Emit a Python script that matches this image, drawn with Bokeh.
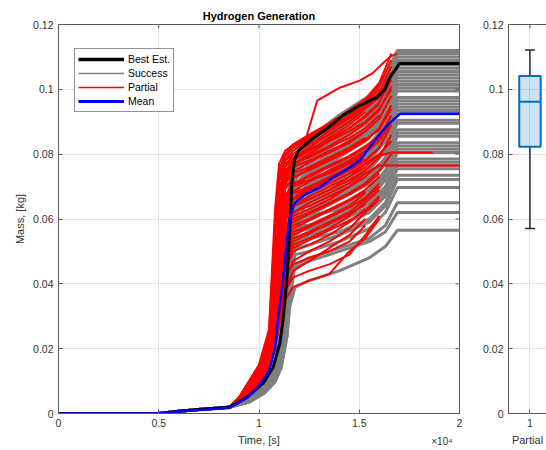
from bokeh.plotting import figure
from bokeh.layouts import row
from bokeh.models import Range1d, LinearAxis, FixedTicker, Legend, LegendItem, Label
from bokeh.embed import file_html
from bokeh.resources import INLINE

FONT = "Liberation Sans"
AX = "#5a5a5a"
TXT = "#333333"
GRID = "#e4e4e4"
NAN = float("nan")

# ---------------- data ----------------
title_text = "Hydrogen Generation"
x_label = "Time, [s]"
y_label = "Mass, [kg]"
box_label = "Partial"
x_mult_text = "×10⁴"

x_ticks = [0, 5000, 10000, 15000, 20000]
x_tick_labels = ["0", "0.5", "1", "1.5", "2"]
y_ticks = [0, 0.02, 0.04, 0.06, 0.08, 0.1, 0.12]
y_tick_labels = ["0", "0.02", "0.04", "0.06", "0.08", "0.1", "0.12"]
box_ticks = [1]
box_tick_labels = ["1"]

# common start of every run
base_t = [0, 5000, 6000, 7000, 8500]
base_m = [0.0, 0.0, 0.0007, 0.0012, 0.0019]

# Success runs (gray)
gray_t = [9500, 10300, 10800, 11100, 11400, 11800, 12500, 14000, 15500, 16300, 16900, 20000]
gray_high = [
    [0.0043, 0.0082, 0.0132, 0.025, 0.058, 0.078, 0.084, 0.091, 0.0975, 0.103, 0.1115, 0.1115],
    [0.0045, 0.0085, 0.0140, 0.028, 0.066, 0.079, 0.085, 0.092, 0.098, 0.104, 0.112, 0.112],
    [0.0040, 0.0078, 0.0120, 0.021, 0.050, 0.077, 0.083, 0.090, 0.097, 0.102, 0.111, 0.111],
    [0.0042, 0.0080, 0.0130, 0.025, 0.060, 0.076, 0.082, 0.089, 0.096, 0.101, 0.110, 0.110],
    [0.0038, 0.0070, 0.0110, 0.017, 0.032, 0.072, 0.080, 0.088, 0.095, 0.100, 0.109, 0.109],
    [0.0041, 0.0079, 0.0125, 0.023, 0.055, 0.075, 0.082, 0.089, 0.0955, 0.1005, 0.1085, 0.1085],
    [0.0040, 0.0075, 0.0120, 0.020, 0.046, 0.074, 0.081, 0.087, 0.094, 0.099, 0.1075, 0.1075],
    [0.0045, 0.0085, 0.0140, 0.027, 0.064, 0.075, 0.079, 0.086, 0.092, 0.098, 0.1065, 0.1065],
    [0.0036, 0.0068, 0.0105, 0.016, 0.028, 0.066, 0.078, 0.085, 0.091, 0.097, 0.1055, 0.1055],
    [0.0040, 0.0078, 0.0125, 0.022, 0.052, 0.072, 0.077, 0.084, 0.090, 0.096, 0.1045, 0.1045],
    [0.0042, 0.0080, 0.0130, 0.024, 0.058, 0.070, 0.076, 0.082, 0.089, 0.095, 0.1035, 0.1035],
    [0.0038, 0.0070, 0.0110, 0.018, 0.036, 0.068, 0.075, 0.081, 0.088, 0.094, 0.1025, 0.1025],
    [0.0044, 0.0082, 0.0135, 0.026, 0.061, 0.071, 0.074, 0.080, 0.087, 0.093, 0.1015, 0.1015],
    [0.0036, 0.0066, 0.0100, 0.015, 0.026, 0.060, 0.073, 0.080, 0.086, 0.092, 0.1005, 0.1005],
    [0.0040, 0.0076, 0.0120, 0.021, 0.048, 0.069, 0.072, 0.079, 0.085, 0.091, 0.0995, 0.0995],
]
gray_mid = [
    [0.0042, 0.0080, 0.0130, 0.023, 0.055, 0.067, 0.071, 0.077, 0.083, 0.089, 0.0975, 0.0975],
    [0.0038, 0.0072, 0.0115, 0.019, 0.040, 0.065, 0.070, 0.076, 0.082, 0.088, 0.0965, 0.0965],
    [0.0045, 0.0084, 0.0140, 0.027, 0.063, 0.068, 0.069, 0.075, 0.081, 0.087, 0.0955, 0.0955],
    [0.0035, 0.0065, 0.0098, 0.014, 0.024, 0.056, 0.068, 0.074, 0.080, 0.086, 0.0945, 0.0945],
    [0.0040, 0.0076, 0.0120, 0.020, 0.047, 0.064, 0.067, 0.073, 0.079, 0.085, 0.0935, 0.0935],
    [0.0042, 0.0079, 0.0128, 0.023, 0.054, 0.063, 0.066, 0.072, 0.078, 0.084, 0.0925, 0.0925],
    [0.0038, 0.0071, 0.0112, 0.018, 0.037, 0.062, 0.065, 0.070, 0.076, 0.082, 0.0905, 0.0905],
    [0.0043, 0.0081, 0.0132, 0.025, 0.058, 0.064, 0.064, 0.069, 0.075, 0.081, 0.0895, 0.0895],
    [0.0036, 0.0067, 0.0102, 0.0155, 0.027, 0.058, 0.063, 0.068, 0.073, 0.079, 0.0875, 0.0875],
    [0.0040, 0.0077, 0.0122, 0.021, 0.049, 0.060, 0.062, 0.067, 0.072, 0.078, 0.0865, 0.0865],
    [0.0042, 0.0080, 0.0130, 0.024, 0.056, 0.061, 0.061, 0.066, 0.071, 0.077, 0.0855, 0.0855],
    [0.0038, 0.0072, 0.0114, 0.019, 0.041, 0.059, 0.060, 0.064, 0.069, 0.075, 0.0835, 0.0835],
    [0.0044, 0.0083, 0.0136, 0.026, 0.058, 0.060, 0.061, 0.063, 0.068, 0.074, 0.0825, 0.0825],
    [0.0036, 0.0066, 0.0100, 0.015, 0.026, 0.055, 0.058, 0.062, 0.067, 0.073, 0.0815, 0.0815],
    [0.0040, 0.0076, 0.0120, 0.020, 0.046, 0.057, 0.058, 0.061, 0.066, 0.072, 0.0805, 0.0805],
]
gray_low = [
    [0.0042, 0.0079, 0.0128, 0.023, 0.053, 0.056, 0.057, 0.060, 0.065, 0.070, 0.0785, 0.0785],
    [0.0038, 0.0070, 0.0110, 0.018, 0.035, 0.054, 0.056, 0.059, 0.064, 0.069, 0.0775, 0.0775],
    [0.0045, 0.0085, 0.0140, 0.027, 0.057, 0.058, 0.058, 0.060, 0.063, 0.068, 0.0765, 0.0765],
    [0.0035, 0.0064, 0.0098, 0.014, 0.024, 0.052, 0.055, 0.058, 0.062, 0.067, 0.0755, 0.0755],
    [0.0040, 0.0075, 0.0120, 0.020, 0.044, 0.053, 0.054, 0.056, 0.060, 0.065, 0.0735, 0.0735],
    [0.0042, 0.0080, 0.0130, 0.023, 0.050, 0.051, 0.052, 0.055, 0.059, 0.064, 0.0722, 0.0722],
    [0.0038, 0.0070, 0.0110, 0.018, 0.034, 0.049, 0.050, 0.053, 0.057, 0.062, 0.0697, 0.0697],
    [0.0036, 0.0067, 0.0103, 0.016, 0.029, 0.046, 0.048, 0.051, 0.054, 0.058, 0.0650, 0.0650],
    [0.0040, 0.0075, 0.0120, 0.020, 0.040, 0.045, 0.047, 0.050, 0.053, 0.056, 0.0620, 0.0620],
    [0.0038, 0.0070, 0.0110, 0.017, 0.030, 0.039, 0.041, 0.044, 0.048, 0.0515, 0.0565, 0.0565],
]

# Partial runs (red); each stops after its last listed value
red_t = [9000, 9500, 10000, 10500, 10800, 11000, 11300, 11700, 12500, 13500, 14500, 15300, 16000, 16600]
red_upper = [
    [0.0050, 0.0100, 0.0150, 0.026, 0.063, 0.077, 0.081, 0.083, 0.086, 0.0895, 0.0935, 0.097, 0.102, 0.111],
    [0.0048, 0.0095, 0.0145, 0.024, 0.055, 0.074, 0.080, 0.0825, 0.0855, 0.089, 0.093, 0.0965, 0.101, 0.109],
    [0.0046, 0.0090, 0.0140, 0.023, 0.048, 0.071, 0.079, 0.082, 0.085, 0.088, 0.092, 0.096, 0.100],
    [0.0045, 0.0088, 0.0135, 0.022, 0.042, 0.067, 0.078, 0.081, 0.0845, 0.0875, 0.0915, 0.095, 0.099, 0.107],
    [0.0044, 0.0085, 0.0130, 0.021, 0.038, 0.062, 0.076, 0.080, 0.083, 0.087, 0.091, 0.0945, 0.098],
    [0.0043, 0.0082, 0.0125, 0.020, 0.034, 0.056, 0.074, 0.079, 0.082, 0.086, 0.090, 0.094, 0.0975, 0.105],
    [0.0042, 0.0080, 0.0120, 0.019, 0.031, 0.050, 0.072, 0.078, 0.081, 0.085, 0.089, 0.093],
    [0.0041, 0.0078, 0.0118, 0.0185, 0.029, 0.046, 0.070, 0.077, 0.080, 0.084, 0.088, 0.092, 0.096, 0.103],
    [0.0047, 0.0092, 0.0140, 0.023, 0.050, 0.072, 0.077, 0.079, 0.081, 0.084, 0.087, 0.090, 0.094, 0.100],
    [0.0046, 0.0090, 0.0138, 0.0225, 0.046, 0.069, 0.075, 0.077, 0.079, 0.082, 0.085, 0.088, 0.092],
    [0.0045, 0.0087, 0.0133, 0.0215, 0.041, 0.064, 0.073, 0.076, 0.078, 0.081, 0.084, 0.087, 0.091, 0.098],
    [0.0044, 0.0084, 0.0128, 0.021, 0.037, 0.058, 0.071, 0.074, 0.076, 0.079, 0.082, 0.085],
]
red_dense = [
    [0.0047, 0.0093, 0.0141, 0.0235, 0.051, 0.073, 0.078, 0.080, 0.083, 0.086, 0.090, 0.094, 0.098, 0.104],
    [0.0045, 0.0089, 0.0136, 0.0222, 0.044, 0.068, 0.076, 0.0785, 0.0815, 0.0845, 0.088, 0.0915, 0.0955],
    [0.0044, 0.0086, 0.0131, 0.0212, 0.039, 0.063, 0.074, 0.0765, 0.0795, 0.0825, 0.086, 0.0895, 0.0935, 0.101],
    [0.0043, 0.0083, 0.0126, 0.0202, 0.035, 0.057, 0.072, 0.0745, 0.0775, 0.0805, 0.0835, 0.087],
    [0.0042, 0.0080, 0.0121, 0.0195, 0.032, 0.052, 0.070, 0.0725, 0.0755, 0.0785, 0.0815, 0.0845, 0.0875, 0.094],
    [0.0041, 0.0077, 0.0116, 0.0186, 0.029, 0.047, 0.067, 0.0705, 0.0735, 0.0765, 0.0795, 0.0825, 0.0855],
    [0.0040, 0.0074, 0.0111, 0.0178, 0.027, 0.043, 0.064, 0.0685, 0.0715, 0.0745, 0.0775, 0.0805, 0.084, 0.090],
    [0.0039, 0.0071, 0.0106, 0.0170, 0.025, 0.039, 0.060, 0.0665, 0.0695, 0.0725, 0.0755, 0.0785],
]
red_middle = [
    [0.0043, 0.0081, 0.0122, 0.020, 0.033, 0.053, 0.069, 0.073, 0.075, 0.078, 0.081, 0.084, 0.088, 0.095],
    [0.0042, 0.0079, 0.0118, 0.019, 0.030, 0.048, 0.067, 0.071, 0.073, 0.076, 0.079, 0.082, 0.086],
    [0.0040, 0.0075, 0.0112, 0.018, 0.028, 0.044, 0.065, 0.070, 0.072, 0.075, 0.078, 0.081, 0.085, 0.092],
    [0.0039, 0.0072, 0.0107, 0.0172, 0.026, 0.040, 0.062, 0.068, 0.070, 0.073, 0.076, 0.080],
    [0.0038, 0.0070, 0.0103, 0.0165, 0.025, 0.037, 0.059, 0.066, 0.069, 0.072, 0.075, 0.078, 0.082, 0.089],
    [0.0037, 0.0068, 0.0100, 0.016, 0.024, 0.034, 0.055, 0.064, 0.067, 0.070, 0.073, 0.076, 0.080],
    [0.0036, 0.0066, 0.0097, 0.0155, 0.023, 0.032, 0.051, 0.062, 0.065, 0.068, 0.071, 0.075, 0.079, 0.086],
    [0.0048, 0.0093, 0.0142, 0.0235, 0.049, 0.066, 0.070, 0.071, 0.072, 0.074, 0.077, 0.080],
    [0.0047, 0.0091, 0.0139, 0.023, 0.045, 0.062, 0.067, 0.068, 0.069, 0.072, 0.075, 0.078, 0.082],
    [0.0046, 0.0089, 0.0135, 0.022, 0.040, 0.058, 0.064, 0.066, 0.068, 0.071, 0.074, 0.077, 0.080, 0.084],
    [0.0045, 0.0086, 0.0130, 0.021, 0.036, 0.054, 0.062, 0.064, 0.066, 0.069, 0.072, 0.075],
    [0.0044, 0.0083, 0.0125, 0.0205, 0.033, 0.050, 0.060, 0.062, 0.064, 0.067, 0.070, 0.073, 0.077],
]
red_lower = [
    [0.0043, 0.0080, 0.0120, 0.0195, 0.031, 0.047, 0.058, 0.060, 0.062, 0.065, 0.068, 0.071, 0.075, 0.080],
    [0.0042, 0.0077, 0.0115, 0.0185, 0.029, 0.043, 0.056, 0.058, 0.060, 0.063, 0.066, 0.069, 0.073],
    [0.0041, 0.0074, 0.0110, 0.0178, 0.027, 0.040, 0.053, 0.056, 0.058, 0.061, 0.064, 0.068],
    [0.0040, 0.0072, 0.0106, 0.0170, 0.025, 0.037, 0.050, 0.054, 0.056, 0.059, 0.062, 0.066, 0.070],
    [0.0039, 0.0070, 0.0102, 0.0163, 0.024, 0.034, 0.047, 0.052, 0.054, 0.057, 0.061, 0.065, 0.069],
    [0.0038, 0.0068, 0.0099, 0.0157, 0.023, 0.032, 0.044, 0.050, 0.052, 0.055, 0.059, 0.063],
    [0.0037, 0.0066, 0.0096, 0.0150, 0.022, 0.030, 0.041, 0.047, 0.050, 0.053, 0.057, 0.062, 0.066],
    [0.0036, 0.0064, 0.0093, 0.0145, 0.021, 0.028, 0.038, 0.044, 0.047, 0.051, 0.055, 0.060],
    [0.0037, 0.0065, 0.0095, 0.0150, 0.022, 0.031, 0.042, 0.046, 0.048, 0.050, 0.053, 0.058],
    [0.0036, 0.0062, 0.0092, 0.0145, 0.021, 0.029, 0.038, 0.042, 0.044, 0.046, 0.049, 0.055, 0.061],
    [0.0035, 0.0060, 0.0090, 0.0140, 0.020, 0.027, 0.035, 0.039, 0.041, 0.043, 0.050, 0.054, 0.060],
    [0.0040, 0.0073, 0.0108, 0.0174, 0.026, 0.041, 0.057, 0.059, 0.0615, 0.0645, 0.0675, 0.0705, 0.074],
    [0.0039, 0.0071, 0.0104, 0.0166, 0.025, 0.038, 0.054, 0.057, 0.0595, 0.0625, 0.0655, 0.0685],
    [0.0038, 0.0069, 0.0101, 0.0160, 0.024, 0.036, 0.052, 0.055, 0.0575, 0.0605, 0.0635, 0.0665, 0.071],
    [0.0037, 0.0067, 0.0098, 0.0154, 0.023, 0.033, 0.049, 0.053, 0.0555, 0.0585, 0.0615, 0.0645],
    [0.0036, 0.0065, 0.0095, 0.0148, 0.022, 0.031, 0.046, 0.051, 0.0535, 0.0565, 0.0595, 0.0625, 0.067],
]
red_outlier_t = [9000, 9500, 10000, 10500, 10800, 11000, 11300, 11700, 12300, 12900, 14030, 15020, 15670, 16170, 16520, 16870]
red_outlier_m = [0.0049, 0.0097, 0.0147, 0.025, 0.058, 0.075, 0.080, 0.082, 0.084, 0.0965, 0.1005, 0.1027, 0.105, 0.108, 0.110, 0.111]
red_long_a_t = [9000, 9500, 10000, 10500, 10800, 11000, 11300, 11700, 12500, 13500, 14500, 15300, 16000, 16600, 18660]
red_long_a_m = [0.0040, 0.0072, 0.0108, 0.0172, 0.027, 0.042, 0.060, 0.064, 0.066, 0.069, 0.073, 0.077, 0.0795, 0.0805, 0.0805]
red_long_b_t = [9000, 9500, 10000, 10500, 10800, 11000, 11300, 11700, 12500, 13500, 14500, 15300, 16000, 16600, 20000]
red_long_b_m = [0.0041, 0.0074, 0.0110, 0.0178, 0.028, 0.043, 0.058, 0.061, 0.063, 0.066, 0.070, 0.074, 0.0765, 0.0765, 0.0765]

# Best estimate (black)
best_t = [0, 5000, 6000, 7000, 8500, 9400, 10200, 10700, 11040, 11200, 11390, 11520, 11640, 11760,
          11950, 12540, 13380, 14180, 15020, 15870, 16270, 16520, 16870, 17010, 20000]
best_m = [0, 0, 0.0007, 0.0012, 0.0019, 0.0050, 0.0093, 0.0142, 0.0216, 0.029, 0.041, 0.055, 0.071, 0.078,
          0.081, 0.0842, 0.0879, 0.0919, 0.0950, 0.0975, 0.0999, 0.1036, 0.1067, 0.108, 0.108]
# Mean (blue)
mean_t = [0, 5000, 6000, 7000, 8500, 9400, 10000, 10500, 10800, 11000, 11200, 11390, 11540, 11790,
          12390, 13030, 13680, 14530, 15020, 15500, 16000, 16500, 17050, 20000]
mean_m = [0, 0, 0.0006, 0.0011, 0.0017, 0.0048, 0.0085, 0.013, 0.020, 0.032, 0.041, 0.0534, 0.0605, 0.065,
          0.0679, 0.0697, 0.0728, 0.0759, 0.078, 0.082, 0.086, 0.0895, 0.0925, 0.0925]

# box plot statistics
box_pos = [1]
box_min = [0.0571]
box_q1 = [0.0823]
box_median = [0.0962]
box_q3 = [0.1041]
box_max = [0.1121]


def style_axis(ax):
    ax.axis_line_color = AX
    ax.axis_line_width = 1
    ax.major_tick_line_color = AX
    ax.major_tick_in = 4
    ax.major_tick_out = 0
    ax.minor_tick_line_color = None
    ax.major_label_text_font = FONT
    ax.major_label_text_font_size = "10.5px"
    ax.major_label_text_color = TXT
    ax.major_label_standoff = 5
    ax.axis_label_text_font = FONT
    ax.axis_label_text_font_size = "11px"
    ax.axis_label_text_font_style = "normal"
    ax.axis_label_text_color = TXT
    ax.axis_label_standoff = 4


# ---------------- main plot ----------------
xt = FixedTicker(ticks=x_ticks)
yt = FixedTicker(ticks=y_ticks)
x_over = {v: s for v, s in zip(x_ticks, x_tick_labels)}
y_over = {v: s for v, s in zip(y_ticks, y_tick_labels)}

p1 = figure(width=480, height=450, x_range=Range1d(0, 20000), y_range=Range1d(0, 0.12),
            output_backend="svg", toolbar_location=None, title=title_text,
            min_border_left=58, min_border_right=20, min_border_top=24, min_border_bottom=37)
p1.title.text_font = FONT
p1.title.text_font_size = "11px"
p1.title.text_font_style = "bold"
p1.title.text_color = "#000000"
p1.title.align = "center"
p1.title.standoff = 6
p1.outline_line_color = AX
p1.outline_line_alpha = 1
p1.background_fill_color = "white"

p1.xaxis.ticker = xt
p1.yaxis.ticker = yt
p1.xaxis.major_label_overrides = x_over
p1.yaxis.major_label_overrides = y_over
p1.xaxis.axis_label = x_label
p1.yaxis.axis_label = y_label
p1.xgrid.ticker = xt
p1.ygrid.ticker = yt
p1.grid.grid_line_color = GRID
style_axis(p1.xaxis[0])
style_axis(p1.yaxis[0])

gray_curves = gray_high + gray_mid + gray_low
p1.multi_line(xs=[base_t + gray_t for _ in gray_curves], ys=[base_m + c for c in gray_curves],
              line_color="#808080", line_width=3)

red_curves = red_upper + red_dense + red_middle + red_lower
red_xs = [base_t + red_t[:len(c)] for c in red_curves] + [base_t + red_outlier_t, base_t + red_long_a_t, base_t + red_long_b_t]
red_ys = [base_m + c for c in red_curves] + [base_m + red_outlier_m, base_m + red_long_a_m, base_m + red_long_b_m]
p1.multi_line(xs=red_xs, ys=red_ys, line_color="#ff0000", line_width=2)

p1.line(best_t, best_m, line_color="#000000", line_width=3)
p1.line(mean_t, mean_m, line_color="#0000ff", line_width=2.5)

# inward ticks on the top and right edges of the box
tick_len_y = 0.0012
tick_len_x = 200
p1.segment(x0=x_ticks, x1=x_ticks, y0=[0.12] * len(x_ticks), y1=[0.12 - tick_len_y] * len(x_ticks),
           line_color=AX, line_width=1)
p1.segment(x0=[20000] * len(y_ticks), x1=[20000 - tick_len_x] * len(y_ticks), y0=y_ticks, y1=y_ticks,
           line_color=AX, line_width=1)

# legend (sample lines)
lg_best = p1.line([NAN], [NAN], line_color="#000000", line_width=3.5)
lg_succ = p1.line([NAN], [NAN], line_color="#808080", line_width=1.5)
lg_part = p1.line([NAN], [NAN], line_color="#ff0000", line_width=1.5)
lg_mean = p1.line([NAN], [NAN], line_color="#0000ff", line_width=3)
legend = Legend(items=[LegendItem(label="Best Est.", renderers=[lg_best]),
                       LegendItem(label="Success", renderers=[lg_succ]),
                       LegendItem(label="Partial", renderers=[lg_part]),
                       LegendItem(label="Mean", renderers=[lg_mean])],
                location=(16, 301), glyph_width=46, glyph_height=14, label_height=14,
                spacing=0, padding=3, margin=0, label_standoff=4,
                label_text_font=FONT, label_text_font_size="10.5px", label_text_color="#000000",
                border_line_color="#262626", border_line_width=1, background_fill_alpha=1)
p1.add_layout(legend, "center")

# x10^4 multiplier, placed in the right side panel (offset back under the axis)
p1.add_layout(Label(x=-7, y=-28, x_units="screen", y_units="screen", text=x_mult_text,
                    text_align="right", text_baseline="middle",
                    text_font=FONT, text_font_size="10px", text_color=TXT), "right")

# ---------------- box plot ----------------
bt = FixedTicker(ticks=box_ticks)
p2 = figure(width=66, height=450, x_range=Range1d(0.5, 1.386), y_range=Range1d(0, 0.12),
            output_backend="svg", toolbar_location=None,
            min_border_left=27, min_border_right=0, min_border_top=24, min_border_bottom=37)
p2.outline_line_color = None
p2.xaxis.ticker = bt
p2.yaxis.ticker = yt
p2.xaxis.major_label_overrides = {v: s for v, s in zip(box_ticks, box_tick_labels)}
p2.yaxis.major_label_overrides = y_over
p2.xaxis.axis_label = box_label
p2.xgrid.ticker = bt
p2.ygrid.ticker = yt
p2.grid.grid_line_color = GRID
style_axis(p2.xaxis[0])
style_axis(p2.yaxis[0])
top2 = LinearAxis(ticker=FixedTicker(ticks=[]))
top2.axis_line_color = AX
top2.major_tick_line_color = None
top2.minor_tick_line_color = None
p2.add_layout(top2, "above")
p2.segment(x0=box_ticks, x1=box_ticks, y0=[0.12] * len(box_ticks), y1=[0.12 - tick_len_y] * len(box_ticks),
           line_color=AX, line_width=1)

BOXC = "#0072BD"
p2.segment(x0=box_pos, x1=box_pos, y0=box_q3, y1=box_max, line_color="#262626", line_width=1.5)
p2.segment(x0=box_pos, x1=box_pos, y0=box_min, y1=box_q1, line_color="#262626", line_width=1.5)
p2.segment(x0=[b - 0.114 for b in box_pos], x1=[b + 0.114 for b in box_pos], y0=box_max, y1=box_max,
           line_color="#262626", line_width=1.5)
p2.segment(x0=[b - 0.114 for b in box_pos], x1=[b + 0.114 for b in box_pos], y0=box_min, y1=box_min,
           line_color="#262626", line_width=1.5)
p2.quad(left=[b - 0.25 for b in box_pos], right=[b + 0.25 for b in box_pos], bottom=box_q1, top=box_q3,
        fill_color=BOXC, fill_alpha=0.2, line_color=BOXC, line_width=2)
p2.segment(x0=[b - 0.25 for b in box_pos], x1=[b + 0.25 for b in box_pos], y0=box_median, y1=box_median,
           line_color=BOXC, line_width=2)

layout = row(p1, p2)
open("out.html", "w").write(file_html(layout, INLINE))
